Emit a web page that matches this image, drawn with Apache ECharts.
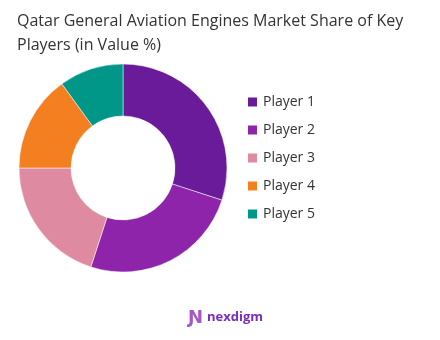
<!DOCTYPE html>
<html><head><meta charset="utf-8">
<script src="https://cdn.jsdelivr.net/npm/echarts@6/dist/echarts.min.js"></script>
<style>html,body{margin:0;padding:0;background:#fff}#c{width:440px;height:340px}</style>
</head><body><div id="c"></div>
<script>
var categories = ['Player 1', 'Player 2', 'Player 3', 'Player 4', 'Player 5'];
var shares = [30, 25, 20, 15, 10];
var colors = ['#6a1b9a', '#8e24aa', '#de8aa0', '#f47f20', '#009688'];
var titleText = 'Qatar General Aviation Engines Market Share of Key\nPlayers (in Value %)';

var chart = echarts.init(document.getElementById('c'), null, {renderer: 'canvas'});
chart.setOption({
  animation: false,
  color: colors,
  title: {
    text: titleText,
    left: 12, top: 4,
    textStyle: {fontFamily: 'Open Sans', fontSize: 16, fontWeight: 'normal', color: '#333', lineHeight: 24}
  },
  legend: {
    orient: 'vertical', left: 241, top: 90,
    itemWidth: 11, itemHeight: 11, itemGap: 14,
    icon: 'rect',
    textStyle: {fontFamily: 'Open Sans', fontSize: 14, color: '#333'},
    data: categories
  },
  series: [{
    type: 'pie',
    center: [123, 168],
    radius: [52, 104],
    startAngle: 90,
    clockwise: true,
    label: {show: false},
    labelLine: {show: false},
    itemStyle: {borderColor: '#fff', borderWidth: 0.5},
    data: categories.map(function (c, i) { return {name: c, value: shares[i]}; })
  }],
  graphic: [
    {type: 'text', left: 188, top: 309, style: {text: 'Ɲ', font: 'bold 18px DejaVu Sans', fill: '#a855c8'}},
    {type: 'text', left: 207, top: 311, style: {text: 'nexdigm', font: 'bold 13px Open Sans', fill: '#7b2cbf'}}
  ]
});
</script></body></html>
